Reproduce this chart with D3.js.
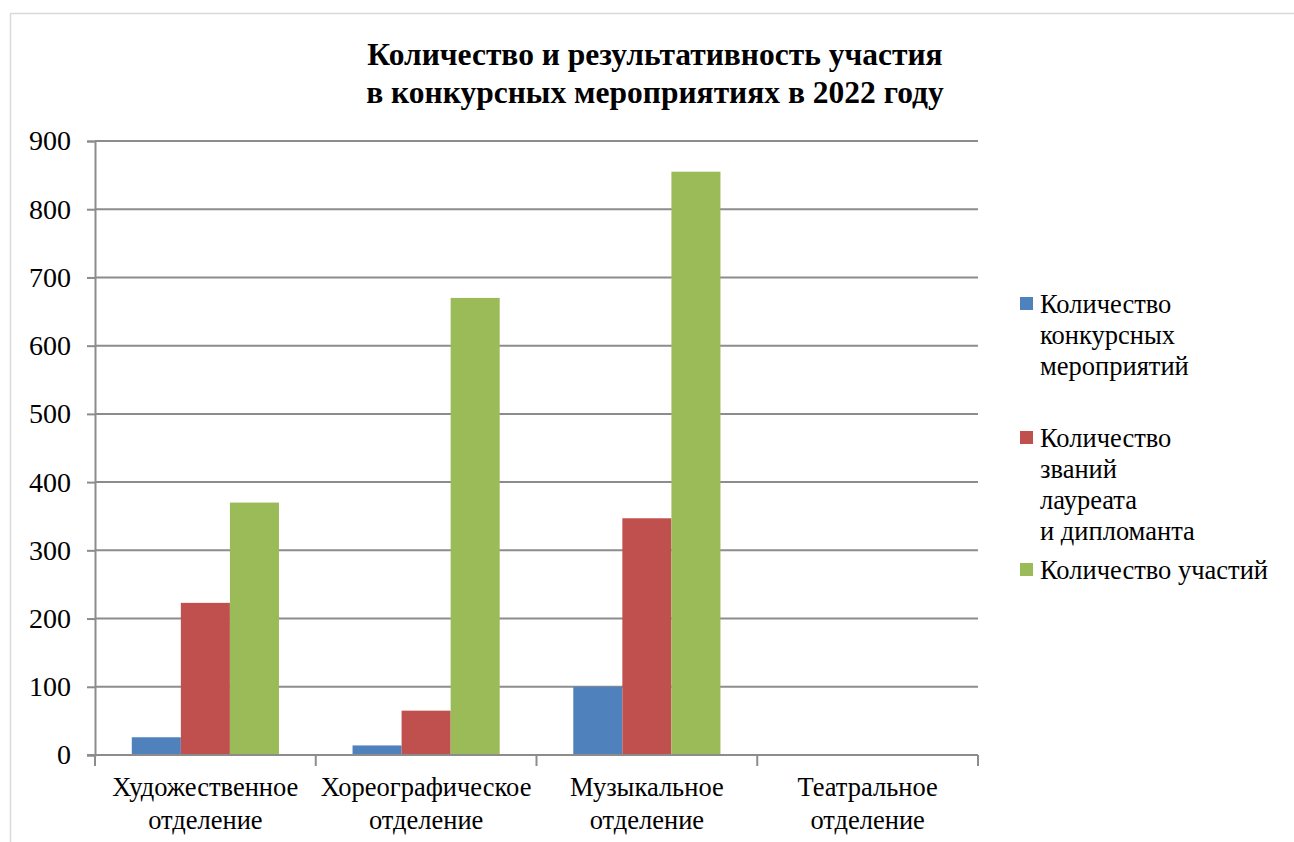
<!DOCTYPE html>
<html><head><meta charset="utf-8">
<script src="https://cdn.jsdelivr.net/npm/d3@7"></script>
<style>body{margin:0;background:#fff;}svg{display:block;} text{font-family:"Liberation Serif","Times New Roman",Tinos,"DejaVu Serif",serif;}</style>
</head><body>
<svg id="chart" width="1294" height="842"></svg>
<script>
const titleLines = ["Количество и результативность участия", "в конкурсных мероприятиях в 2022 году"];
const categories = [["Художественное","отделение"],["Хореографическое","отделение"],["Музыкальное","отделение"],["Театральное","отделение"]];
const seriesNames = [["Количество","конкурсных","мероприятий"],["Количество","званий","лауреата","и дипломанта"],["Количество участий"]];
const seriesColors = ["#4F81BD","#C0504D","#9BBB59"];
const contestCount = [26, 14, 100, 0];
const laureateCount = [223, 65, 347, 0];
const participationCount = [370, 670, 855, 0];
const yTicks = [0,100,200,300,400,500,600,700,800,900];

const series = [contestCount, laureateCount, participationCount];
const svg = d3.select("#chart");

// outer frame
svg.append("rect").attr("x",10.5).attr("y",13.5).attr("width",1300).attr("height",900)
  .attr("fill","none").attr("stroke","#d9d9d9").attr("stroke-width",1.5);

const pLeft = 95, pRight = 978, pTop = 141, pBottom = 755;
const x = d3.scaleBand().domain(d3.range(categories.length)).range([pLeft,pRight]).paddingInner(0).paddingOuter(0);
const y = d3.scaleLinear().domain([0,900]).range([pBottom,pTop]);

// gridlines
svg.append("g").selectAll("line").data(yTicks.slice(1)).join("line")
  .attr("x1",pLeft).attr("x2",pRight).attr("y1",d=>y(d)).attr("y2",d=>y(d))
  .attr("stroke","#8c8c8c").attr("stroke-width",2);

// bars
const bw = x.bandwidth()/4.5;
categories.forEach((c,i)=>{
  series.forEach((s,j)=>{
    if (s[i] <= 0) return;
    svg.append("rect")
      .attr("x", x(i) + 0.75*bw + j*bw)
      .attr("y", y(s[i]))
      .attr("width", bw)
      .attr("height", y(0)-y(s[i]))
      .attr("fill", seriesColors[j]);
  });
});

// y axis
const yAxis = svg.append("g").attr("transform",`translate(${pLeft},0)`)
  .call(d3.axisLeft(y).tickValues(yTicks).tickSize(8).tickPadding(16));
yAxis.attr("font-family",null);
yAxis.select(".domain").attr("stroke","#8c8c8c").attr("stroke-width",2);
yAxis.selectAll(".tick line").attr("stroke","#8c8c8c").attr("stroke-width",2);
yAxis.selectAll("text").attr("font-size",28).attr("fill","#000").attr("x",-24);

// x axis
const xAxisG = svg.append("g");
xAxisG.append("line").attr("x1",pLeft-8).attr("x2",pRight).attr("y1",pBottom).attr("y2",pBottom)
  .attr("stroke","#8c8c8c").attr("stroke-width",2);
const boundaries = d3.range(categories.length+1).map(i => i<categories.length ? x(i) : x(i-1)+x.bandwidth());
xAxisG.selectAll("line.tk").data(boundaries).join("line").attr("class","tk")
  .attr("x1",d=>d).attr("x2",d=>d).attr("y1",pBottom).attr("y2",pBottom+11)
  .attr("stroke","#8c8c8c").attr("stroke-width",2);
categories.forEach((c,i)=>{
  const t = svg.append("text").attr("x", x(i)+x.bandwidth()/2).attr("y", 796)
    .attr("text-anchor","middle").attr("font-size",26.5).attr("fill","#000");
  c.forEach((ln,k)=> t.append("tspan").attr("x", x(i)+x.bandwidth()/2).attr("dy", k?33:0).text(ln));
});

// title
const tt = svg.append("text").attr("x",655).attr("y",65).attr("text-anchor","middle")
  .attr("font-weight","bold").attr("font-size",31.5).attr("fill","#000");
titleLines.forEach((ln,k)=> tt.append("tspan").attr("x",655).attr("dy",k?38:0).text(ln));

// legend
const legendStarts = [313, 447, 579];
seriesNames.forEach((lines,j)=>{
  svg.append("rect").attr("x",1020).attr("y",legendStarts[j]-16).attr("width",13).attr("height",13)
    .attr("fill",seriesColors[j]);
  const t = svg.append("text").attr("x",1040).attr("y",legendStarts[j])
    .attr("font-size",26.5).attr("fill","#000");
  lines.forEach((ln,k)=> t.append("tspan").attr("x",1040).attr("dy",k?31:0).text(ln));
});
</script>
</body></html>
